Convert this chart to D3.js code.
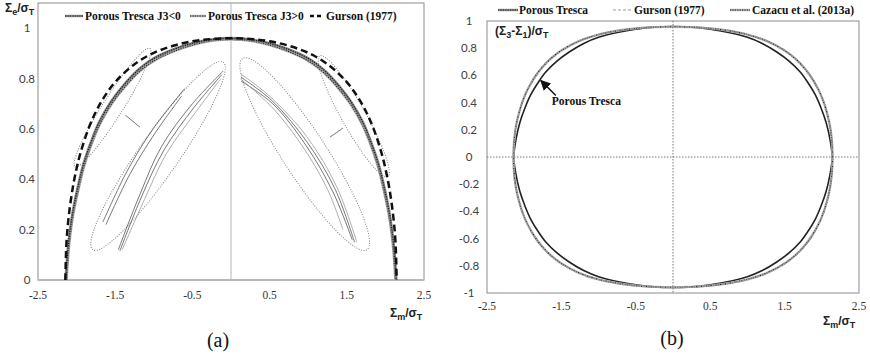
<!DOCTYPE html>
<html>
<head>
<meta charset="utf-8">
<script src="https://cdn.jsdelivr.net/npm/d3@7"></script>
<style>
    body { margin: 0; background: #fff; }
    svg { display: block; }
    .tick-y { font-family: Lato, "Liberation Sans", sans-serif; font-size: 11.5px; fill: #404040; }
    .tick-x { font-family: "Liberation Serif", serif; font-size: 11.5px; fill: #333; }
    .legend { font-family: "Liberation Serif", serif; font-weight: bold; font-size: 11.5px; fill: #111; }
    .axis-title { font-family: "Liberation Sans", sans-serif; font-weight: bold; font-size: 12px; fill: #222; }
    .caption { font-family: "Liberation Serif", serif; font-size: 20px; fill: #111; }
</style>
</head>
<body>
<svg id="chart" width="870" height="357"></svg>
<script>
// tick labels
const xTicks = [-2.5, -1.5, -0.5, 0.5, 1.5, 2.5];
const yTicksA = [0, 0.2, 0.4, 0.6, 0.8, 1];
const yTicksB = [-1, -0.8, -0.6, -0.4, -0.2, 0, 0.2, 0.4, 0.6, 0.8, 1];

// panel (a): [Sigma_m, Sigma_e]
const trescaJ3neg = [[-2.14, 0], [-2.11, 0.13], [-2.06, 0.25], [-1.99, 0.36], [-1.91, 0.46], [-1.81, 0.55],
    [-1.71, 0.625], [-1.56, 0.705], [-1.4, 0.77], [-1.2, 0.835], [-1.0, 0.88], [-0.75, 0.915], [-0.5, 0.94],
    [-0.25, 0.955], [0, 0.96], [0.25, 0.955], [0.5, 0.94], [0.75, 0.915], [1.0, 0.88], [1.2, 0.835],
    [1.4, 0.77], [1.56, 0.705], [1.71, 0.625], [1.81, 0.55], [1.91, 0.46], [1.99, 0.36], [2.06, 0.25],
    [2.11, 0.13], [2.14, 0]];
const trescaJ3pos = [[-2.13, 0], [-2.1, 0.13], [-2.05, 0.25], [-1.98, 0.355], [-1.9, 0.455], [-1.8, 0.545],
    [-1.7, 0.618], [-1.55, 0.698], [-1.39, 0.762], [-1.19, 0.827], [-0.99, 0.872], [-0.75, 0.907], [-0.5, 0.933],
    [-0.25, 0.95], [0, 0.955], [0.25, 0.95], [0.5, 0.933], [0.75, 0.907], [0.99, 0.872], [1.19, 0.827],
    [1.39, 0.762], [1.55, 0.698], [1.7, 0.618], [1.8, 0.545], [1.9, 0.455], [1.98, 0.355], [2.05, 0.25],
    [2.1, 0.13], [2.13, 0]];
const gurson = [[-2.146, 0], [-2.13, 0.154], [-2.1, 0.258], [-2.05, 0.366], [-2.0, 0.443], [-1.95, 0.504],
    [-1.85, 0.598], [-1.75, 0.668], [-1.65, 0.723], [-1.5, 0.786], [-1.25, 0.857], [-1.0, 0.902], [-0.75, 0.93],
    [-0.5, 0.948], [-0.25, 0.957], [0, 0.96], [0.25, 0.957], [0.5, 0.948], [0.75, 0.93], [1.0, 0.902],
    [1.25, 0.857], [1.5, 0.786], [1.65, 0.723], [1.75, 0.668], [1.85, 0.598], [1.95, 0.504], [2.0, 0.443],
    [2.05, 0.366], [2.1, 0.258], [2.13, 0.154], [2.146, 0]];

// thin inner curves of panel (a)
const innerCurvesA = [
    [[-1.46, 0.12], [-1.18, 0.34], [-0.9, 0.53], [-0.5, 0.7], [-0.1, 0.83]],
    [[-1.44, 0.115], [-1.16, 0.33], [-0.87, 0.515], [-0.48, 0.685], [-0.12, 0.815]],
    [[-1.41, 0.12], [-1.12, 0.32], [-0.84, 0.5], [-0.45, 0.67], [-0.13, 0.8]],
    [[-1.66, 0.23], [-1.35, 0.43], [-1.01, 0.6], [-0.6, 0.76]],
    [[-1.62, 0.22], [-1.31, 0.42], [-0.98, 0.585], [-0.64, 0.73]],
    [[0.12, 0.82], [0.5, 0.73], [0.98, 0.57], [1.37, 0.37], [1.63, 0.15]],
    [[0.13, 0.805], [0.52, 0.715], [0.98, 0.55], [1.35, 0.36], [1.6, 0.15]],
    [[0.13, 0.79], [0.54, 0.7], [0.97, 0.535], [1.32, 0.35], [1.57, 0.16]],
    [[0.12, 0.8], [0.55, 0.68], [0.95, 0.52], [1.25, 0.36], [1.45, 0.2]]
];
const connectorsA = [
    [[-1.37, 0.655], [-1.18, 0.607]],
    [[1.28, 0.567], [1.45, 0.603]]
];
// dotted highlight ovals: long-axis ends
const ovalsA = [
    { from: [-2.02, 0.45], to: [-1.05, 0.92], half: 10 },
    { from: [-1.79, 0.12], to: [-0.1, 0.865], half: 20 },
    { from: [1.15, 0.89], to: [2.03, 0.41], half: 12 },
    { from: [0.15, 0.88], to: [1.76, 0.12], half: 22 }
];

// panel (b): upper half [Sigma_m, (S3-S1)], the lower half is its mirror
const trescaB = trescaJ3neg;
const gursonB = gurson;
const cazacuB = [[-2.145, 0], [-2.13, 0.15], [-2.1, 0.255], [-2.05, 0.362], [-2.0, 0.44], [-1.95, 0.5],
    [-1.85, 0.594], [-1.75, 0.664], [-1.65, 0.72], [-1.5, 0.783], [-1.25, 0.855], [-1.0, 0.9], [-0.75, 0.928],
    [-0.5, 0.946], [-0.25, 0.955], [0, 0.958], [0.25, 0.955], [0.5, 0.946], [0.75, 0.928], [1.0, 0.9],
    [1.25, 0.855], [1.5, 0.783], [1.65, 0.72], [1.75, 0.664], [1.85, 0.594], [1.95, 0.5], [2.0, 0.44],
    [2.05, 0.362], [2.1, 0.255], [2.13, 0.15], [2.145, 0]];

const svg = d3.select('#chart');

function hatched(g, d, w, light) {
    g.append('path').attr('d', d).attr('fill', 'none')
        .attr('stroke', light ? '#b0b0b0' : '#8a8a8a').attr('stroke-width', w);
    g.append('path').attr('d', d).attr('fill', 'none')
        .attr('stroke', '#1a1a1a').attr('stroke-width', w * 0.45)
        .attr('stroke-dasharray', '1.2,1.2');
}

function closedLoop(pts) {
    const lower = pts.slice(1, -1).reverse().map(p => [p[0], -p[1]]);
    return pts.concat(lower);
}

function subText(g, cls, x, y, parts) {
    const t = g.append('text').attr('class', cls).attr('x', x).attr('y', y);
    parts.forEach(([s, sub]) => {
        if (sub) t.append('tspan').attr('dy', 3).attr('font-size', 9).text(s);
        else t.append('tspan').attr('dy', t.selectAll('tspan').size() ? -3 : 0).text(s);
    });
    return t;
}

function renderPanelA() {
    const x = d3.scaleLinear().domain([-2.5, 2.5]).range([38, 424]);
    const y = d3.scaleLinear().domain([0, 1.1]).range([280, 3]);
    const g = svg.append('g');
    const line = d3.line().x(d => x(d[0])).y(d => y(d[1])).curve(d3.curveCatmullRom);

    g.append('rect').attr('x', x(-2.5)).attr('y', y(1.1))
        .attr('width', x(2.5) - x(-2.5)).attr('height', y(0) - y(1.1))
        .attr('fill', 'none').attr('stroke', '#8c8c8c');
    g.append('line').attr('x1', x(-2.5)).attr('x2', x(2.5)).attr('y1', y(0)).attr('y2', y(0))
        .attr('stroke', '#b8b8b8').attr('stroke-width', 2);
    g.append('line').attr('x1', x(0)).attr('x2', x(0)).attr('y1', y(1.1)).attr('y2', y(0))
        .attr('stroke', '#b4b4b4');

    g.selectAll('.tick-x').data(xTicks).enter().append('text')
        .attr('class', 'tick-x').attr('x', d => x(d)).attr('y', 299)
        .attr('text-anchor', 'middle').text(d => d);
    g.selectAll('.tick-y').data(yTicksA).enter().append('text')
        .attr('class', 'tick-y').attr('x', 27).attr('y', d => y(d) + 4)
        .attr('text-anchor', 'middle').text(d => d);

    // ovals
    ovalsA.forEach(o => {
        const x1 = x(o.from[0]), y1 = y(o.from[1]), x2 = x(o.to[0]), y2 = y(o.to[1]);
        const len = Math.hypot(x2 - x1, y2 - y1);
        const ang = Math.atan2(y2 - y1, x2 - x1) * 180 / Math.PI;
        g.append('ellipse')
            .attr('transform', `translate(${(x1 + x2) / 2},${(y1 + y2) / 2}) rotate(${ang})`)
            .attr('rx', len / 2).attr('ry', o.half)
            .attr('fill', 'none').attr('stroke', '#808080').attr('stroke-width', 1)
            .attr('stroke-dasharray', '1,1.5');
    });

    innerCurvesA.forEach((c, i) => {
        g.append('path').attr('d', line(c)).attr('fill', 'none')
            .attr('stroke', i % 3 === 2 ? '#999' : '#555').attr('stroke-width', 0.8);
    });
    connectorsA.forEach(c => {
        g.append('path').attr('d', d3.line().x(d => x(d[0])).y(d => y(d[1]))(c))
            .attr('stroke', '#555').attr('stroke-width', 0.8);
    });

    hatched(g, line(trescaJ3pos), 2.6, true);
    hatched(g, line(trescaJ3neg), 2.8, false);
    g.append('path').attr('d', line(gurson)).attr('fill', 'none')
        .attr('stroke', '#111').attr('stroke-width', 2.5).attr('stroke-dasharray', '7,4');

    // legend
    const lg = g.append('g');
    hatched(lg, 'M65,16H83', 2.4, false);
    lg.append('text').attr('class', 'legend').attr('x', 85).attr('y', 20).text('Porous Tresca J3<0');
    hatched(lg, 'M190,16H206', 2.4, true);
    lg.append('text').attr('class', 'legend').attr('x', 208).attr('y', 20).text('Porous Tresca J3>0');
    lg.append('path').attr('d', 'M310,16H323').attr('stroke', '#111').attr('stroke-width', 2.5)
        .attr('stroke-dasharray', '4,3');
    lg.append('text').attr('class', 'legend').attr('x', 326).attr('y', 20).text('Gurson (1977)');

    // axis titles
    subText(g, 'axis-title', 5, 15, [['Σ'], ['e', 1], ['/σ'], ['T', 1]]);
    subText(g, 'axis-title', 390, 320, [['Σ'], ['m', 1], ['/σ'], ['T', 1]]);

    g.append('text').attr('class', 'caption').attr('x', 218).attr('y', 347)
        .attr('text-anchor', 'middle').text('(a)');
}

function renderPanelB() {
    const x = d3.scaleLinear().domain([-2.5, 2.5]).range([487, 859]);
    const y = d3.scaleLinear().domain([-1, 1]).range([293, 21]);
    const g = svg.append('g');
    const line = d3.line().x(d => x(d[0])).y(d => y(d[1])).curve(d3.curveCatmullRomClosed);

    g.append('rect').attr('x', x(-2.5)).attr('y', y(1))
        .attr('width', x(2.5) - x(-2.5)).attr('height', y(-1) - y(1))
        .attr('fill', 'none').attr('stroke', '#8c8c8c');
    g.append('line').attr('x1', x(-2.5)).attr('x2', x(2.5)).attr('y1', y(0)).attr('y2', y(0))
        .attr('stroke', '#777').attr('stroke-dasharray', '1.5,1.5');
    g.append('line').attr('x1', x(0)).attr('x2', x(0)).attr('y1', y(1)).attr('y2', y(-1))
        .attr('stroke', '#777').attr('stroke-dasharray', '1.5,1.5');

    g.selectAll('.tick-x').data(xTicks).enter().append('text')
        .attr('class', 'tick-x').attr('x', d => x(d)).attr('y', 310)
        .attr('text-anchor', 'middle').text(d => d);
    g.selectAll('.tick-y').data(yTicksB).enter().append('text')
        .attr('class', 'tick-y').attr('x', 469).attr('y', d => y(d) + 4)
        .attr('text-anchor', 'middle').text(d => d);

    g.append('path').attr('d', line(closedLoop(trescaB))).attr('fill', 'none')
        .attr('stroke', '#222').attr('stroke-width', 1.6);
    hatched(g, line(closedLoop(cazacuB)), 2.4, true);
    g.append('path').attr('d', line(closedLoop(gursonB))).attr('fill', 'none')
        .attr('stroke', '#9a9a9a').attr('stroke-width', 1.2).attr('stroke-dasharray', '3,2');

    // annotation arrow
    const tip = [x(-1.79), y(0.57)];
    g.append('defs').append('marker').attr('id', 'arr').attr('viewBox', '0 0 10 10')
        .attr('refX', 9).attr('refY', 5).attr('markerWidth', 7).attr('markerHeight', 7)
        .attr('orient', 'auto').append('path').attr('d', 'M0,0L10,5L0,10z').attr('fill', '#111');
    g.append('line').attr('x1', tip[0] + 16).attr('y1', tip[1] + 16)
        .attr('x2', tip[0] + 1).attr('y2', tip[1] + 1)
        .attr('stroke', '#111').attr('stroke-width', 1.5).attr('marker-end', 'url(#arr)');
    g.append('text').attr('class', 'legend').attr('x', tip[0] + 12).attr('y', tip[1] + 26)
        .attr('font-size', 12).text('Porous Tresca');

    // legend
    const lg = g.append('g');
    hatched(lg, 'M498,10H518', 2.4, false);
    lg.append('text').attr('class', 'legend').attr('x', 519).attr('y', 14).text('Porous Tresca');
    lg.append('path').attr('d', 'M613,10H631').attr('stroke', '#9a9a9a').attr('stroke-width', 1.2)
        .attr('stroke-dasharray', '3,2');
    lg.append('text').attr('class', 'legend').attr('x', 634).attr('y', 14).text('Gurson (1977)');
    hatched(lg, 'M730,10H750', 2.4, true);
    lg.append('text').attr('class', 'legend').attr('x', 752).attr('y', 14).text('Cazacu et al. (2013a)');

    subText(g, 'axis-title', 495, 38, [['(Σ'], ['3', 1], ['-Σ'], ['1', 1], [')/σ'], ['T', 1]]);
    subText(g, 'axis-title', 823, 328, [['Σ'], ['m', 1], ['/σ'], ['T', 1]]);

    g.append('text').attr('class', 'caption').attr('x', 672).attr('y', 345)
        .attr('text-anchor', 'middle').text('(b)');
}

renderPanelA();
renderPanelB();
</script>
</body>
</html>
